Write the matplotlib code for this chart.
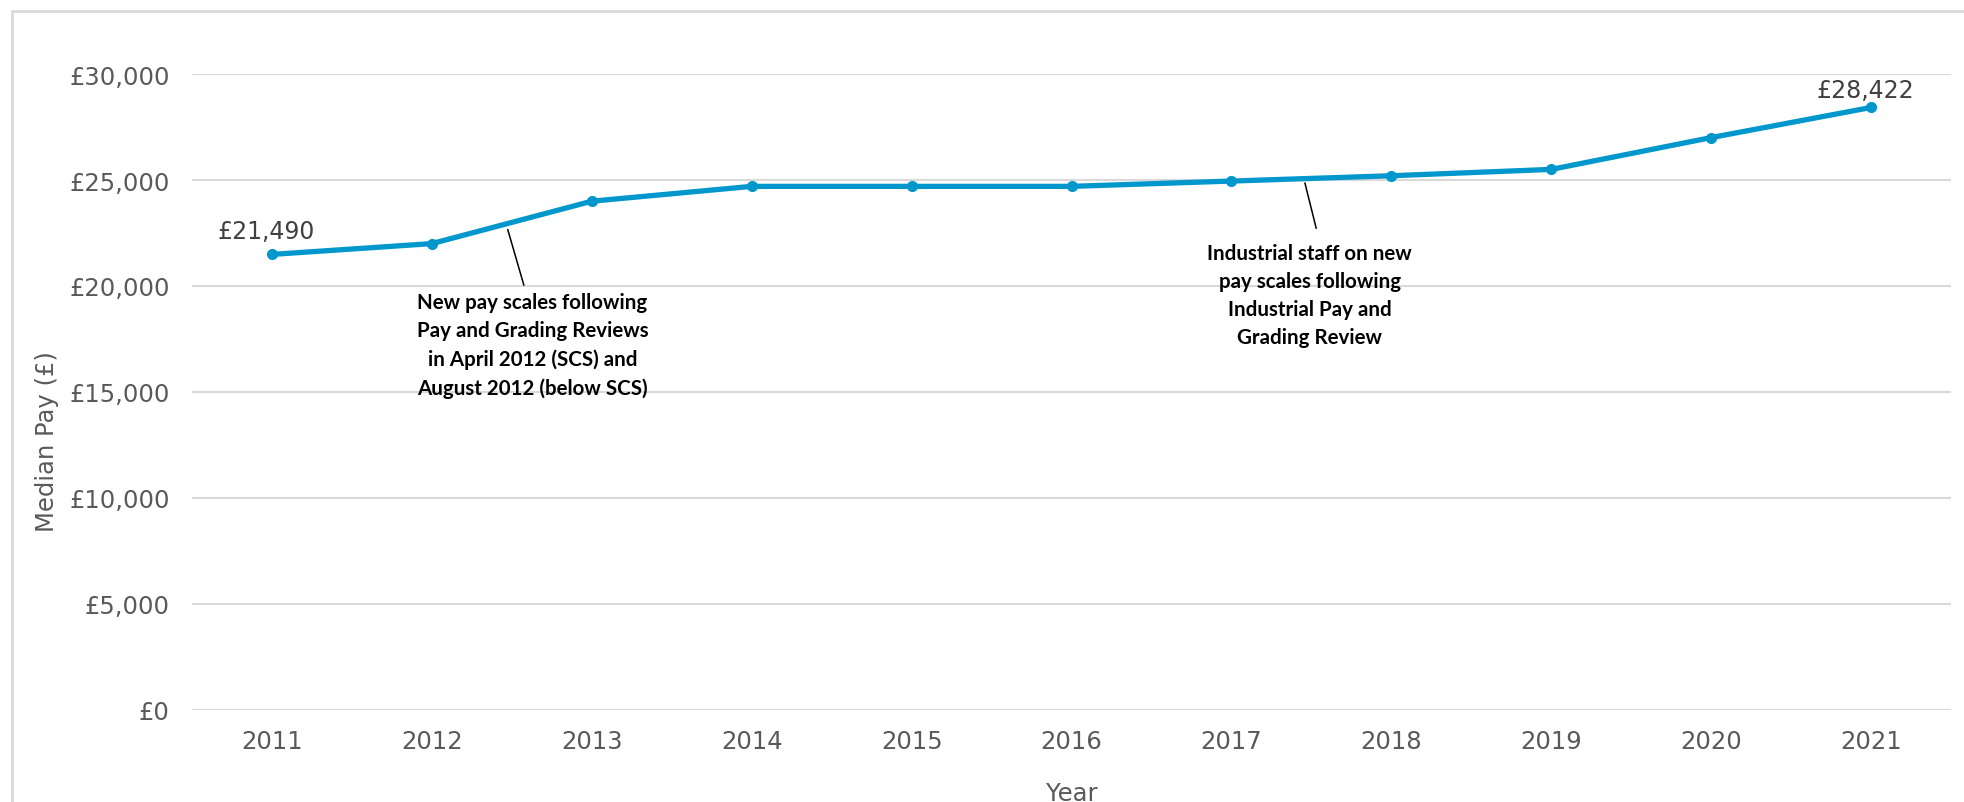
import matplotlib
matplotlib.use("Agg")
import matplotlib.pyplot as plt
from matplotlib.ticker import FuncFormatter
from matplotlib.patches import Rectangle

years = [2011, 2012, 2013, 2014, 2015, 2016, 2017, 2018, 2019, 2020, 2021]
median_pay = [21490, 22000, 24000, 24700, 24700, 24700, 24950, 25200, 25500, 27000, 28422]
y_ticks = [0, 5000, 10000, 15000, 20000, 25000, 30000]
note1 = "New pay scales following\nPay and Grading Reviews\nin April 2012 (SCS) and\nAugust 2012 (below SCS)"
note2 = "Industrial staff on new\npay scales following\nIndustrial Pay and\nGrading Review"

W, H = 1965, 803
fig = plt.figure(figsize=(W / 100, H / 100), dpi=100)
ax = fig.add_axes([192 / W, 1 - 711 / H, (1951 - 192) / W, (711 - 75) / H])

# outer chart border (top/left visible)
fig.patches.append(Rectangle((12 / W, 0 - 0.05), 1.2, 1 - 12 / H + 0.05,
                             transform=fig.transFigure, fill=False,
                             edgecolor="#d9d9d9", linewidth=2))

line_color = "#0097CC"
ax.plot(years, median_pay, color=line_color, linewidth=3.8, marker="o",
        markersize=7, zorder=3, solid_capstyle="round")

ax.set_xlim(years[0] - 0.5, years[-1] + 0.5)
ax.set_ylim(0, 30000)
ax.set_yticks(y_ticks)
ax.yaxis.set_major_formatter(FuncFormatter(lambda v, p: "£{:,.0f}".format(v)))
ax.set_xticks(years)
ax.set_xticklabels([str(y) for y in years])

tick_color = "#595959"
ax.tick_params(axis="both", length=0, labelsize=17.5, colors=tick_color)
ax.tick_params(axis="x", pad=14)
ax.tick_params(axis="y", pad=16)
ax.grid(axis="y", color="#d9d9d9", linewidth=1.5)
ax.set_axisbelow(True)
for s in ax.spines.values():
    s.set_visible(False)

fig.text(47 / W, 1 - 442 / H, "Median Pay (£)", rotation=90, ha="center",
         va="center", fontsize=17.5, color=tick_color)
fig.text(1072 / W, 2 / H, "Year", ha="center", va="baseline",
         fontsize=17.5, color=tick_color)

# data labels
ax.annotate("£{:,}".format(median_pay[0]), (years[0], median_pay[0]),
            xytext=(-4, 8), textcoords="offset points", ha="center",
            va="bottom", fontsize=17, color="#404040")
ax.annotate("£{:,}".format(median_pay[-1]), (years[-1], median_pay[-1]),
            xytext=(-4, 4), textcoords="offset points", ha="center",
            va="bottom", fontsize=17, color="#404040")

# annotations
fam = ["Lato", "DejaVu Sans"]
ax.plot([2012.475, 2012.575], [22650, 20050], color="black", linewidth=1.1, zorder=2)
ax.text(2012.63, 17220, note1, ha="center", va="center", fontsize=14.8,
        fontweight="bold", family=fam, linespacing=1.5, color="black")
ax.plot([2017.46, 2017.53], [24850, 22730], color="black", linewidth=1.1, zorder=2)
ax.text(2017.49, 19580, note2, ha="center", va="center", fontsize=14.8,
        fontweight="bold", family=fam, linespacing=1.5, color="black")

fig.savefig("out.png", dpi=100)
